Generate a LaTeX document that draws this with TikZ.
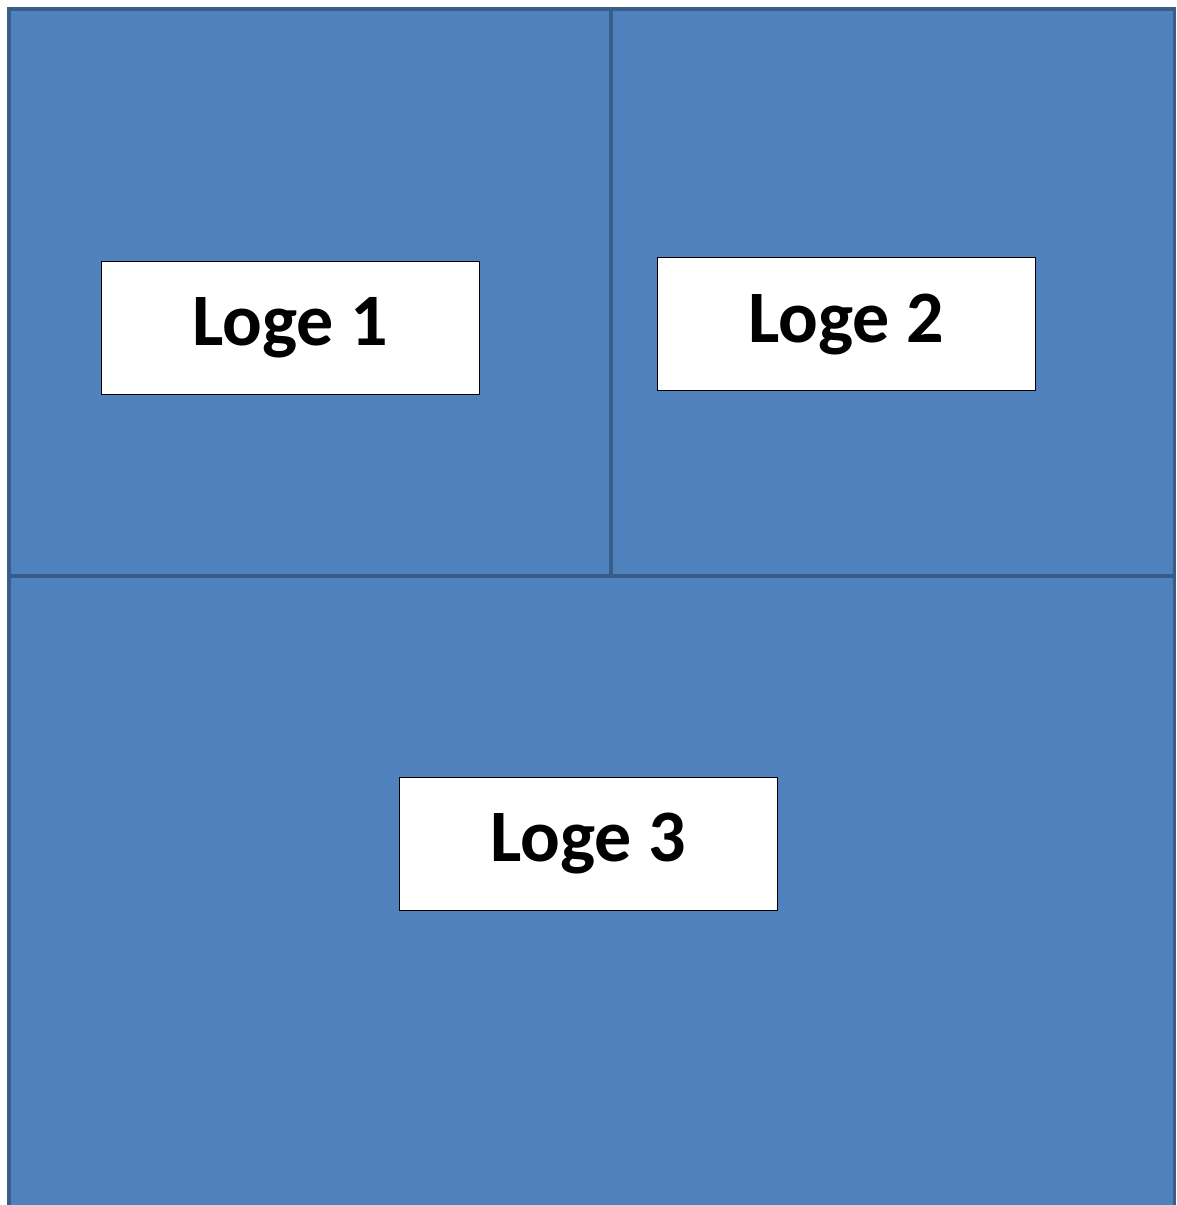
\documentclass[tikz,border=0pt]{standalone}
\usepackage{fontspec}
\setmainfont{Carlito}
\usepackage{tikz}
\usepackage{xcolor}
\usetikzlibrary{positioning}

\definecolor{roomblue}{HTML}{4F81BD}
\definecolor{roomedge}{HTML}{385D8A}

\begin{document}
\begin{tikzpicture}[
    x=1pt, y=-1pt,
    room/.style={draw=roomedge, fill=roomblue, line width=3.5pt},
    logebox/.style={draw=black, fill=white, line width=0.8pt, minimum width=378pt, minimum height=133pt, inner sep=0pt, font=\fontsize{74}{82}\selectfont\bfseries}
]
\useasboundingbox (0,0) rectangle (1176,1205);
\begin{scope}
\clip (0,0) rectangle (1176,1205);
\draw[room] (9,9) rectangle (611,576);
\draw[room] (611,9) rectangle (1174.5,576);
\draw[room] (9,576) rectangle (1174.5,1215);
\end{scope}

\node[logebox] (loge1) at (290,327.5) {Loge 1};
\node[logebox] (loge2) at (846,324) {Loge 2};
\node[logebox] (loge3) at (588,843.5) {Loge 3};
\end{tikzpicture}
\end{document}
